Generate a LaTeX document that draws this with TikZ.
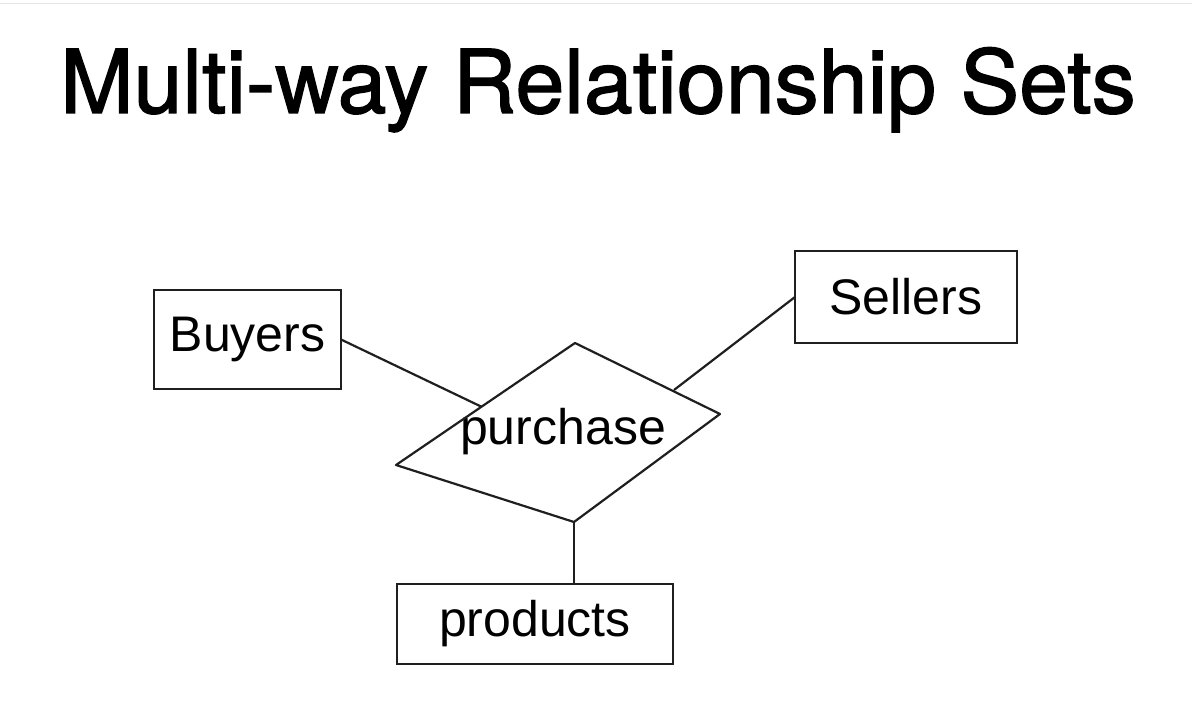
\documentclass[tikz,border=0pt]{standalone}
\usepackage{fontspec}
\setmainfont{TeX Gyre Heros}
\newfontfamily\titlefont[FakeBold=1.5]{TeX Gyre Heros}
\newfontfamily\handfont{Liberation Sans}
\usepackage{tikz}
\usetikzlibrary{arrows.meta,positioning}
\tikzset{
  entity/.style={rectangle, draw=black!88, line width=2.4pt, inner sep=0pt,
    outer sep=0pt, font=\handfont\fontsize{50}{56}\selectfont},
  rellabel/.style={inner sep=0pt, font=\handfont\fontsize{50}{56}\selectfont},
  link/.style={draw=black!88, line width=2.2pt, line join=round},
}

\begin{document}
\begin{tikzpicture}[x=1pt, y=1pt]
\useasboundingbox (0,0) rectangle (1192,716);
\draw[black!10, line width=1pt] (0,712) -- (1192,712);

% title
\node[anchor=base, font=\titlefont\fontsize{88}{100}\selectfont] (title) at (598,603) {Multi-way Relationship Sets};

% relationship set (hand-drawn, skewed diamond)
\node[rellabel] (purchase) at (563,284) {purchase};
\coordinate (ptop) at (575,373);
\coordinate (pright) at (720,302);
\coordinate (pbottom) at (574,194);
\coordinate (pleft) at (396,251);
\coordinate (pbuy) at (482,309);
\coordinate (psell) at (674,326);
\draw[link] (ptop) -- (pright) -- (pbottom) -- (pleft) -- cycle;

% entity sets
\node[entity, minimum width=187pt, minimum height=99pt] (buyers) at (247.5,376.5) {Buyers};
\node[entity, minimum width=222pt, minimum height=92pt] (sellers) at (906,419) {Sellers};
\node[entity, minimum width=276pt, minimum height=80pt, below=62pt of pbottom, xshift=-39pt] (products) {products};

\draw[link] (buyers.east) -- (pbuy);
\draw[link] (sellers.west) -- (psell);
\draw[link] (pbottom) -- (pbottom |- products.north);
\end{tikzpicture}
\end{document}
